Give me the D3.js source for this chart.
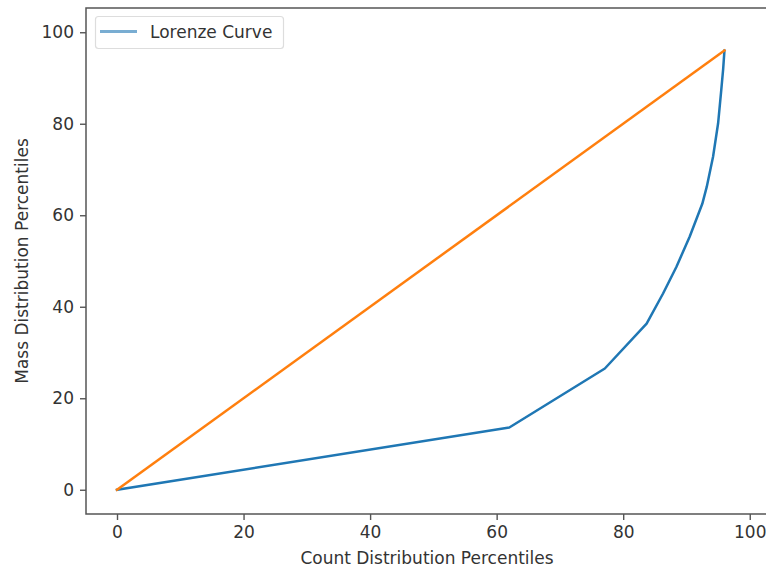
<!DOCTYPE html>
<html>
<head>
<meta charset="utf-8">
<script src="https://cdn.jsdelivr.net/npm/d3@7"></script>
<style>
  html, body { margin: 0; padding: 0; background: #fff; }
  svg { display: block; font-family: "DejaVu Sans", sans-serif; overflow: hidden; }
</style>
</head>
<body>
<svg id="chart" width="766" height="568"></svg>
<script>
// Lorenz curve: cumulative count share vs cumulative mass share (percent)
const countPct = [0, 62, 77.1, 83.7, 86.3, 88.4, 90.5, 92.5, 93.2, 94.2, 95.0, 95.5, 95.8, 96];
const massPct  = [0, 13.6, 26.5, 36.3, 42.9, 48.7, 55.3, 62.5, 66.2, 72.8, 80.1, 87.4, 92.0, 96];

// Line of equality, from the origin to the curve's end point
const equalityX = [0, 96];
const equalityY = [0, 96];

const xTicks = [0, 20, 40, 60, 80, 100];
const yTicks = [0, 20, 40, 60, 80, 100];

const seriesLabel = "Lorenze Curve";
const xLabel = "Count Distribution Percentiles";
const yLabel = "Mass Distribution Percentiles";

const svg = d3.select("#chart");
// the right edge of the axes box lies just past the canvas
const plot = { left: 86, right: 770, top: 8, bottom: 514 };

const x = d3.scaleLinear().domain([-4.9, 103.2]).range([plot.left, plot.right]);
const y = d3.scaleLinear().domain([-5.3, 105.3]).range([plot.bottom, plot.top]);

const textColor = "#333";
const spineColor = "#555";
const fontSize = 17;

svg.append("defs").append("clipPath").attr("id", "plot-clip")
  .append("rect")
  .attr("x", plot.left).attr("y", plot.top)
  .attr("width", plot.right - plot.left).attr("height", plot.bottom - plot.top);

const lines = svg.append("g").attr("clip-path", "url(#plot-clip)");
const lineGen = d3.line().x(d => x(d[0])).y(d => y(d[1]));

lines.append("path")
  .datum(d3.zip(countPct, massPct))
  .attr("d", lineGen)
  .attr("fill", "none")
  .attr("stroke", "#1f77b4")
  .attr("stroke-width", 2.5)
  .attr("stroke-linejoin", "round")
  .attr("stroke-linecap", "square");

lines.append("path")
  .datum(d3.zip(equalityX, equalityY))
  .attr("d", lineGen)
  .attr("fill", "none")
  .attr("stroke", "#ff7f0e")
  .attr("stroke-width", 2.5)
  .attr("stroke-linecap", "square");

// Axes
const xAxis = d3.axisBottom(x).tickValues(xTicks).tickSize(6).tickPadding(6)
  .tickFormat(d3.format("d"));
const yAxis = d3.axisLeft(y).tickValues(yTicks).tickSize(6).tickPadding(6)
  .tickFormat(d3.format("d"));

const gx = svg.append("g").attr("transform", `translate(0,${plot.bottom})`).call(xAxis);
const gy = svg.append("g").attr("transform", `translate(${plot.left},0)`).call(yAxis);

[gx, gy].forEach(g => {
  g.select(".domain").remove();
  g.selectAll(".tick line").attr("stroke", spineColor).attr("stroke-width", 1.4);
  g.selectAll(".tick text")
    .attr("fill", textColor)
    .style("font-family", '"DejaVu Sans", sans-serif')
    .style("font-size", fontSize + "px");
});

// Frame
svg.append("rect")
  .attr("x", plot.left).attr("y", plot.top)
  .attr("width", plot.right - plot.left).attr("height", plot.bottom - plot.top)
  .attr("fill", "none")
  .attr("stroke", spineColor)
  .attr("stroke-width", 1.5);

// Axis titles
svg.append("text")
  .attr("x", 427)
  .attr("y", 564)
  .attr("text-anchor", "middle")
  .attr("fill", textColor)
  .style("font-size", fontSize + "px")
  .text(xLabel);

svg.append("text")
  .attr("transform", `translate(28,${(plot.top + plot.bottom) / 2}) rotate(-90)`)
  .attr("text-anchor", "middle")
  .attr("fill", textColor)
  .style("font-size", fontSize + "px")
  .text(yLabel);

// Legend
const legend = svg.append("g");
legend.append("rect")
  .attr("x", 95.5).attr("y", 16.5)
  .attr("width", 188).attr("height", 32)
  .attr("rx", 3).attr("ry", 3)
  .attr("fill", "#fff")
  .attr("fill-opacity", 0.8)
  .attr("stroke", "#ddd")
  .attr("stroke-width", 1.2);
legend.append("line")
  .attr("x1", 100).attr("x2", 137)
  .attr("y1", 31.5).attr("y2", 31.5)
  .attr("stroke", "#1f77b4")
  .attr("stroke-opacity", 0.6)
  .attr("stroke-width", 3);
legend.append("text")
  .attr("x", 150).attr("y", 37.5)
  .attr("fill", textColor)
  .style("font-size", fontSize + "px")
  .text(seriesLabel);
</script>
</body>
</html>
